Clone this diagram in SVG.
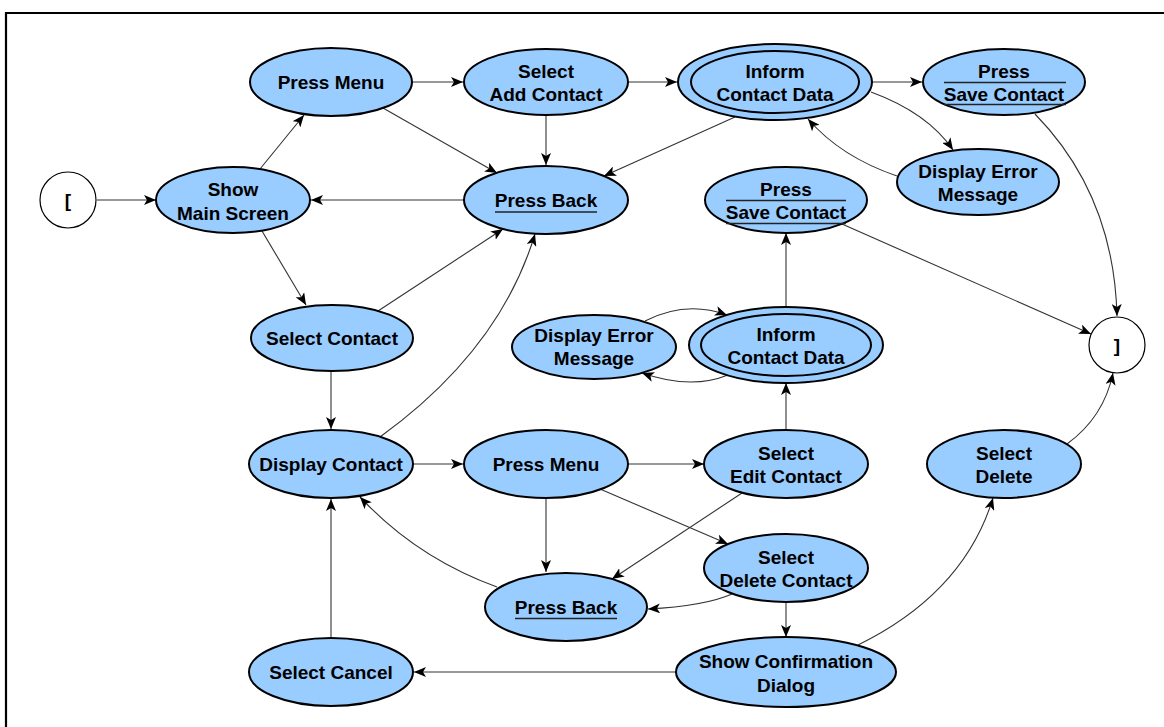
<svg xmlns="http://www.w3.org/2000/svg" width="1164" height="727" viewBox="0 0 1164 727">
  <style>
    .state { fill: #99ccff; stroke: #000; stroke-width: 2; }
    .pseudo { fill: #fff; stroke: #000; stroke-width: 1.2; }
    .lbl { font-family: "Liberation Sans", Arial, Helvetica, sans-serif; font-size: 19px; font-weight: bold; fill: #000; text-anchor: middle; }
    .ul { stroke: #222; stroke-width: 1.5; }
    .edge { fill: none; stroke: #333; stroke-width: 1.1; marker-end: url(#arrow); }
  </style>
  <defs>
    <marker id="arrow" viewBox="0 0 12 10" refX="12" refY="5" markerWidth="12" markerHeight="10" markerUnits="userSpaceOnUse" orient="auto">
      <path d="M0,0 L12,5 L0,10 L3,5 z" fill="#000"/>
    </marker>
  </defs>

  <rect width="1164" height="727" fill="#fff"/>
  <!-- frame -->
  <path d="M6,727 V13 H1164" fill="none" stroke="#000" stroke-width="2.2"/>

  <!-- transitions -->
  <g id="connectors">
    <path class="edge" d="M97,200 L156,200"/>
    <path class="edge" d="M260,169 L304,115"/>
    <path class="edge" d="M412,82 L463,82"/>
    <path class="edge" d="M383,108 L497,173"/>
    <path class="edge" d="M546,115 L546,165"/>
    <path class="edge" d="M628,82 L677,82"/>
    <path class="edge" d="M735,117 L604,176"/>
    <path class="edge" d="M872,82 L922,82"/>
    <path class="edge" d="M871,92 Q928,113 953,150"/>
    <path class="edge" d="M897,176 Q841,157 808,119"/>
    <path class="edge" d="M1035,114 Q1114,195 1117,316"/>
    <path class="edge" d="M464,200 L311,200"/>
    <path class="edge" d="M262,231 L306,305"/>
    <path class="edge" d="M378,311 L503,229"/>
    <path class="edge" d="M331,371 L331,429"/>
    <path class="edge" d="M380,437 Q500,350 535,234"/>
    <path class="edge" d="M413,464 L463,464"/>
    <path class="edge" d="M628,464 L704,464"/>
    <path class="edge" d="M546,498 L546,572"/>
    <path class="edge" d="M600,489 L728,544"/>
    <path class="edge" d="M742,493 L612,579"/>
    <path class="edge" d="M732,594 Q705,606 648,609"/>
    <path class="edge" d="M497,587 Q417,558 360,497"/>
    <path class="edge" d="M786,430 L786,383"/>
    <path class="edge" d="M786,307 L786,233"/>
    <path class="edge" d="M842,224 L1091,334"/>
    <path class="edge" d="M728,375 Q691,390 642,373"/>
    <path class="edge" d="M645,321 Q686,300 727,315"/>
    <path class="edge" d="M786,602 L786,637"/>
    <path class="edge" d="M858,645 Q964,593 993,498"/>
    <path class="edge" d="M676,672 L414,672"/>
    <path class="edge" d="M331,638 L331,499"/>
    <path class="edge" d="M1067,444 Q1104,417 1113,373"/>
  </g>

  <!-- initial pseudo state -->
  <g id="start">
    <circle class="pseudo" cx="68" cy="200" r="28"/>
    <text class="lbl" x="68" y="207">[</text>
  </g>

  <g id="show-main-screen">
    <ellipse class="state" cx="233" cy="200" rx="77" ry="33"/>
    <text class="lbl" x="233" y="196">Show</text>
    <text class="lbl" x="233" y="220">Main Screen</text>
  </g>

  <g id="press-menu-1">
    <ellipse class="state" cx="331" cy="82" rx="81" ry="34"/>
    <text class="lbl" x="331" y="89">Press Menu</text>
  </g>

  <g id="select-add-contact">
    <ellipse class="state" cx="546" cy="82" rx="82" ry="33"/>
    <text class="lbl" x="546" y="78">Select</text>
    <text class="lbl" x="546" y="101">Add Contact</text>
  </g>

  <g id="inform-contact-data-1">
    <ellipse class="state" cx="775" cy="82" rx="97" ry="38"/>
    <ellipse class="state" cx="775" cy="82" rx="84" ry="31"/>
    <text class="lbl" x="775" y="78">Inform</text>
    <text class="lbl" x="775" y="101">Contact Data</text>
  </g>

  <g id="press-save-contact-1">
    <ellipse class="state" cx="1004" cy="82" rx="81" ry="33"/>
    <text class="lbl" x="1004" y="78">Press</text>
    <text class="lbl" x="1004" y="101">Save Contact</text>
    <line class="ul" x1="944" y1="82.5" x2="1066" y2="82.5"/>
    <line class="ul" x1="944" y1="104.5" x2="1066" y2="104.5"/>
  </g>

  <g id="display-error-message-1">
    <ellipse class="state" cx="978" cy="182" rx="81" ry="33"/>
    <text class="lbl" x="978" y="178">Display Error</text>
    <text class="lbl" x="978" y="201">Message</text>
  </g>

  <g id="press-back-1">
    <ellipse class="state" cx="546" cy="200" rx="82" ry="34"/>
    <text class="lbl" x="546" y="207">Press Back</text>
    <line class="ul" x1="495" y1="212" x2="597" y2="212"/>
  </g>

  <g id="press-save-contact-2">
    <ellipse class="state" cx="786" cy="200" rx="81" ry="33"/>
    <text class="lbl" x="786" y="196">Press</text>
    <text class="lbl" x="786" y="219">Save Contact</text>
    <line class="ul" x1="726" y1="200.5" x2="846" y2="200.5"/>
    <line class="ul" x1="726" y1="223.5" x2="846" y2="223.5"/>
  </g>

  <!-- final pseudo state -->
  <g id="end">
    <circle class="pseudo" cx="1117" cy="345" r="28"/>
    <text class="lbl" x="1117" y="352">]</text>
  </g>

  <g id="select-contact">
    <ellipse class="state" cx="332" cy="338" rx="81" ry="33"/>
    <text class="lbl" x="332" y="345">Select Contact</text>
  </g>

  <g id="display-error-message-2">
    <ellipse class="state" cx="594" cy="347" rx="82" ry="32"/>
    <text class="lbl" x="594" y="342">Display Error</text>
    <text class="lbl" x="594" y="365">Message</text>
  </g>

  <g id="inform-contact-data-2">
    <ellipse class="state" cx="786" cy="345" rx="97" ry="38"/>
    <ellipse class="state" cx="786" cy="345" rx="85" ry="31"/>
    <text class="lbl" x="786" y="341">Inform</text>
    <text class="lbl" x="786" y="364">Contact Data</text>
  </g>

  <g id="display-contact">
    <ellipse class="state" cx="331" cy="464" rx="82" ry="34"/>
    <text class="lbl" x="331" y="471">Display Contact</text>
  </g>

  <g id="press-menu-2">
    <ellipse class="state" cx="546" cy="464" rx="82" ry="34"/>
    <text class="lbl" x="546" y="471">Press Menu</text>
  </g>

  <g id="select-edit-contact">
    <ellipse class="state" cx="786" cy="464" rx="82" ry="34"/>
    <text class="lbl" x="786" y="460">Select</text>
    <text class="lbl" x="786" y="483">Edit Contact</text>
  </g>

  <g id="select-delete">
    <ellipse class="state" cx="1004" cy="464" rx="77" ry="34"/>
    <text class="lbl" x="1004" y="460">Select</text>
    <text class="lbl" x="1004" y="483">Delete</text>
  </g>

  <g id="select-delete-contact">
    <ellipse class="state" cx="786" cy="568" rx="82" ry="34"/>
    <text class="lbl" x="786" y="564">Select</text>
    <text class="lbl" x="786" y="587">Delete Contact</text>
  </g>

  <g id="press-back-2">
    <ellipse class="state" cx="566" cy="607" rx="81" ry="34"/>
    <text class="lbl" x="566" y="614">Press Back</text>
    <line class="ul" x1="515" y1="618.5" x2="617" y2="618.5"/>
  </g>

  <g id="show-confirmation-dialog">
    <ellipse class="state" cx="786" cy="672" rx="110" ry="35"/>
    <text class="lbl" x="786" y="668">Show Confirmation</text>
    <text class="lbl" x="786" y="692">Dialog</text>
  </g>

  <g id="select-cancel">
    <ellipse class="state" cx="331" cy="672" rx="82" ry="34"/>
    <text class="lbl" x="331" y="679">Select Cancel</text>
  </g>
</svg>
